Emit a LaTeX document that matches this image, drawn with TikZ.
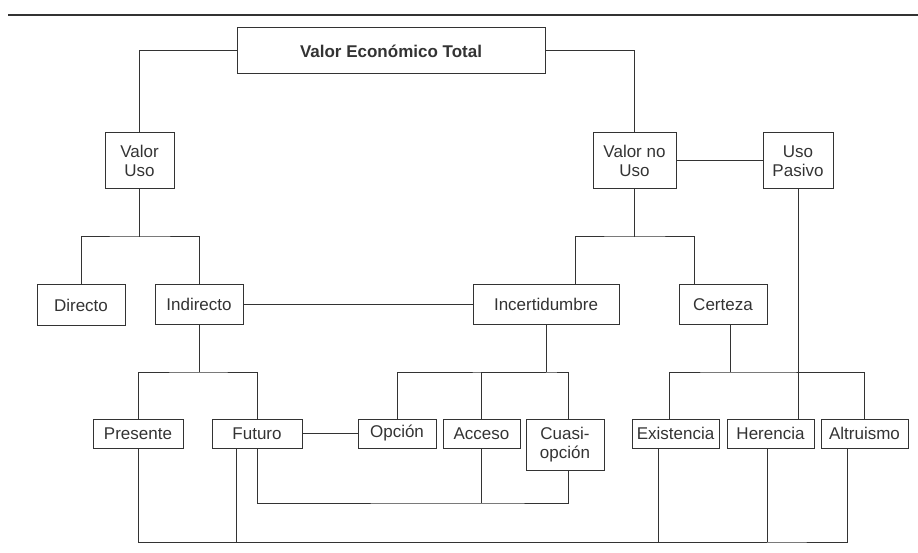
\documentclass[tikz,border=0pt]{standalone}
\usepackage{fontspec}
\setmainfont{Liberation Sans}
\begin{document}
\begin{tikzpicture}[x=1pt,y=-1pt,line width=1pt,color=black!80,
    caja/.style={draw,inner sep=0pt,align=center,minimum height=29pt,font=\fontsize{17}{19}\selectfont}]
    \useasboundingbox (0,0) rectangle (918,553);
    \draw [line width=2.5pt] (8,15) -- (918,15);
    \node [caja,minimum width=308pt,minimum height=46pt,font=\fontsize{17}{19}\selectfont\bfseries] (vet) at (391,51) {Valor Económico Total};
    \node [caja,minimum width=69pt,minimum height=56pt] (vuso) at (139.5,161) {Valor\\Uso};
    \node [caja,minimum width=83pt,minimum height=56pt] (vnouso) at (634.5,161) {Valor no\\Uso};
    \node [caja,minimum width=70pt,minimum height=56pt] (upas) at (798,161) {Uso\\Pasivo};
    \node [caja,minimum width=88pt,minimum height=40pt] (dir) at (81,305) {Directo};
    \node [caja,minimum width=88pt,minimum height=39pt] (ind) at (199,304.5) {Indirecto};
    \node [caja,minimum width=146pt,minimum height=39pt] (inc) at (546,304.5) {Incertidumbre};
    \node [caja,minimum width=88pt,minimum height=39pt] (cer) at (723,304.5) {Certeza};
    \node [caja,minimum width=90pt] (pre) at (138,433.5) {Presente};
    \node [caja,minimum width=90pt] (fut) at (257,433.5) {Futuro};
    \node [caja,minimum width=78pt] (opc) at (397,433.5) {Opción};
    \node [caja,minimum width=77pt] (acc) at (481.5,433.5) {Acceso};
    \node [caja,minimum width=78pt,minimum height=51pt] (cua) at (565,444.5) {Cuasi-\\opción};
    \node [caja,minimum width=87pt] (exi) at (675.5,433.5) {Existencia};
    \node [caja,minimum width=87pt] (her) at (770.5,433.5) {Herencia};
    \node [caja,minimum width=87pt] (alt) at (864.5,433.5) {Altruismo};
    \coordinate (j1) at (139.5,237);
    \coordinate (j2) at (634.5,237);
    \coordinate (j3) at (199,372);
    \coordinate (j4) at (546,372);
    \coordinate (j5) at (730,372);
    \coordinate (j6) at (481.5,503);
    \coordinate (j7) at (767,542);
    \draw (vet.west) -| (vuso.north);
    \draw (vet.east) -| (vnouso.north);
    \draw (vnouso.east) -- (upas.west);
    \draw (vuso.south) -- (j1);
    \draw (dir.north) |- (j1) -| (ind.north);
    \draw (vnouso.south) -- (j2);
    \draw ([xshift=29pt]inc.north) |- (j2) -| ([xshift=-29pt]cer.north);
    \draw (ind.east) -- (inc.west);
    \draw (ind.south) -- (j3);
    \draw (pre.north) |- (j3) -| (fut.north);
    \draw (inc.south) -- (j4);
    \draw (opc.north) |- (j4) -| ([xshift=3pt]cua.north);
    \draw (acc.north) |- (j4);
    \draw ([xshift=7pt]cer.south) -- (j5);
    \draw ([xshift=-6.5pt]exi.north) |- (j5) -| (alt.north);
    \draw (upas.south) -- (upas.south |- her.north);
    \draw (fut.east) -- (opc.west);
    \draw (fut.south) |- (j6) -| ([xshift=3pt]cua.south);
    \draw (acc.south) -- (j6);
    \draw (pre.south) |- (j7) -| ([xshift=-17.5pt]alt.south);
    \draw ([xshift=-21pt]fut.south) |- (j7);
    \draw ([xshift=-17.5pt]exi.south) |- (j7);
    \draw ([xshift=-3.5pt]her.south) |- (j7);
\end{tikzpicture}
\end{document}
